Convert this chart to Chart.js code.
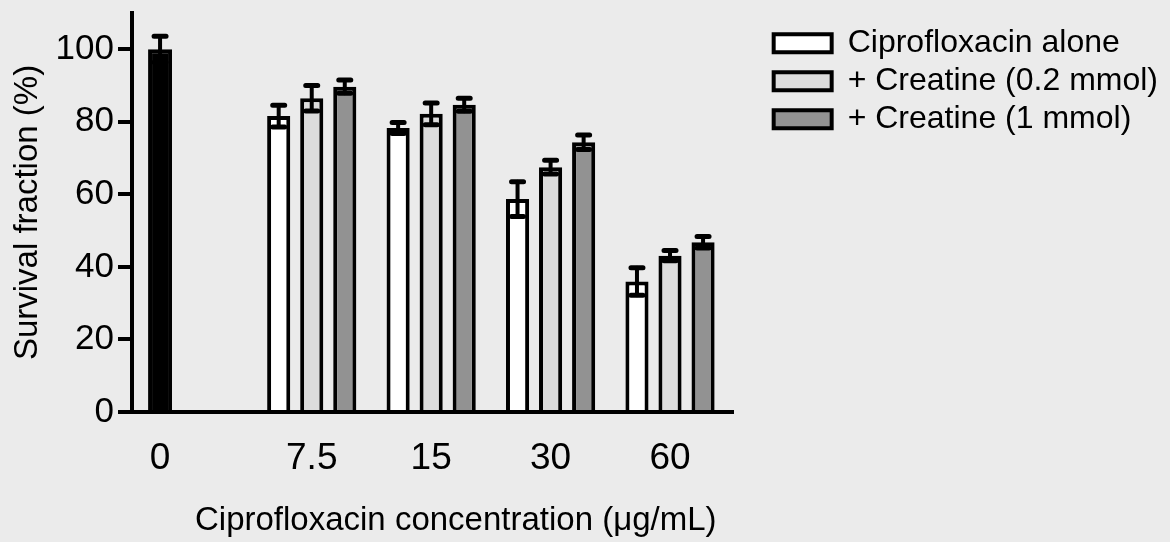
<!DOCTYPE html>
<html>
<head>
<meta charset="utf-8">
<script src="https://cdn.jsdelivr.net/npm/chart.js@4.4.1/dist/chart.umd.min.js"></script>
<style>
  html, body { margin: 0; padding: 0; background: #ebebeb; }
  #wrap { width: 1170px; height: 542px; position: relative; }
</style>
</head>
<body>
<div id="wrap"><canvas id="survivalChart"></canvas></div>
<script>
// ciprofloxacin concentration (ug/mL)
const xLabels = ['0', '7.5', '15', '30', '60'];

// survival fraction (%) and SEM
const controlMean = [100, null, null, null, null];
const controlErr = [3.6, null, null, null, null];
const aloneMean = [null, 81.6, 78.3, 58.7, 36.0];
const aloneErr = [null, 3.0, 1.5, 4.8, 3.8];
const lowMean = [null, 86.5, 82.2, 67.5, 43.1];
const lowErr = [null, 3.5, 3.0, 1.9, 1.4];
const highMean = [null, 89.7, 84.7, 74.4, 46.8];
const highErr = [null, 1.8, 1.8, 2.0, 1.6];

const yTicks = [0, 20, 40, 60, 80, 100];

// where each group sits on the x scale (control is set apart a bit)
const groupPos = [0, 1.27, 2.27, 3.27, 4.27];

const FONT = "'Liberation Sans', Arial, Helvetica, sans-serif";

const toPoints = (values) => groupPos.map((x, i) => ({ x: x, y: values[i] }));

// draws the SEM bars on top of the columns
const errorBars = {
  id: 'errorBars',
  afterDatasetsDraw(chart) {
    const ctx = chart.ctx;
    const yScale = chart.scales.y;
    chart.data.datasets.forEach((ds, di) => {
      const meta = chart.getDatasetMeta(di);
      meta.data.forEach((bar, i) => {
        const m = ds.data[i].y;
        const e = ds.errors[i];
        if (m == null || e == null) return;
        const top = yScale.getPixelForValue(m + e);
        const bottom = yScale.getPixelForValue(m - e);
        const x = bar.x;
        ctx.save();
        ctx.strokeStyle = '#000';
        ctx.lineCap = 'round';
        ctx.lineWidth = 4;
        ctx.beginPath();
        ctx.moveTo(x, top);
        ctx.lineTo(x, bottom);
        ctx.stroke();
        ctx.lineWidth = 5;
        ctx.beginPath();
        ctx.moveTo(x - 6, top);
        ctx.lineTo(x + 6, top);
        ctx.moveTo(x - 6, bottom);
        ctx.lineTo(x + 6, bottom);
        ctx.stroke();
        ctx.restore();
      });
    });
  }
};

const barStyle = {
  borderColor: '#000',
  borderWidth: 4,
  skipNull: true,
  categoryPercentage: 0.83,
  barPercentage: 0.7,
  maxBarThickness: 24
};

new Chart(document.getElementById('survivalChart'), {
  type: 'bar',
  data: {
    datasets: [
      { label: 'Control', data: toPoints(controlMean), errors: controlErr, backgroundColor: '#000000', ...barStyle },
      { label: 'Ciprofloxacin alone', data: toPoints(aloneMean), errors: aloneErr, backgroundColor: '#ffffff', ...barStyle },
      { label: '+ Creatine (0.2 mmol)', data: toPoints(lowMean), errors: lowErr, backgroundColor: '#dcdcdc', ...barStyle },
      { label: '+ Creatine (1 mmol)', data: toPoints(highMean), errors: highErr, backgroundColor: '#929292', ...barStyle }
    ]
  },
  options: {
    responsive: true,
    maintainAspectRatio: false,
    animation: false,
    layout: { padding: { top: 13, left: 0, right: 2, bottom: 0 } },
    plugins: {
      tooltip: { enabled: false },
      legend: {
        position: 'right',
        align: 'start',
        maxWidth: 440,
        title: { display: true, text: '', font: { size: 1 }, padding: { top: 7, bottom: 0 } },
        labels: {
          filter: (item) => item.datasetIndex > 0,
          boxWidth: 58,
          boxHeight: 18,
          padding: 6,
          color: '#000',
          font: { family: FONT, size: 32 }
        }
      }
    },
    scales: {
      x: {
        type: 'linear',
        offset: false,
        min: -0.235,
        max: 4.803,
        afterBuildTicks: (scale) => { scale.ticks = groupPos.map(v => ({ value: v })); },
        afterFit: (scale) => { scale.height = 130; },
        grid: { display: false, drawTicks: false },
        border: { display: true, color: '#000', width: 4 },
        ticks: {
          autoSkip: false,
          maxRotation: 0,
          padding: 25,
          color: '#000',
          font: { family: FONT, size: 37 },
          callback: (value, index) => xLabels[index]
        },
        title: {
          display: true,
          text: '     Ciprofloxacin concentration (\u03bcg/mL)',
          color: '#000',
          font: { family: FONT, size: 33 },
          padding: { top: 0, bottom: 1 }
        }
      },
      y: {
        min: 0,
        max: 110,
        afterBuildTicks: (scale) => { scale.ticks = yTicks.map(v => ({ value: v })); },
        afterFit: (scale) => { scale.width = 132; },
        grid: { drawOnChartArea: false, drawTicks: true, tickLength: 14, color: '#000', lineWidth: 4 },
        border: { display: true, color: '#000', width: 4 },
        ticks: {
          padding: 4,
          color: '#000',
          font: { family: FONT, size: 35, lineHeight: 0.4 }
        },
        title: {
          display: true,
          text: 'Survival fraction (%)',
          color: '#000',
          font: { family: FONT, size: 33 },
          padding: { top: 8, bottom: 0 }
        }
      },
      gap: {
        type: 'linear',
        position: 'right',
        display: true,
        afterFit: (scale) => { scale.width = 34; },
        grid: { display: false, drawTicks: false },
        border: { display: false },
        ticks: { display: false }
      }
    }
  },
  plugins: [errorBars]
});
</script>
</body>
</html>
